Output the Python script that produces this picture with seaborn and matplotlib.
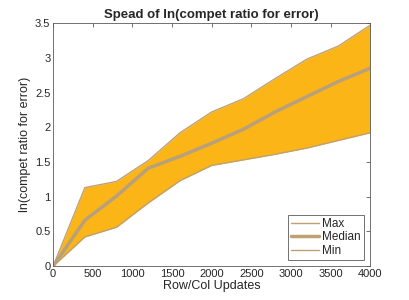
import matplotlib
matplotlib.use("Agg")
import matplotlib.pyplot as plt
import numpy as np
import pandas as pd
import seaborn as sns

updates = [0, 400, 800, 1200, 1600, 2000, 2400, 2800, 3200, 3600, 4000]
max_vals = [0, 1.13, 1.22, 1.52, 1.92, 2.22, 2.41, 2.70, 2.98, 3.17, 3.47]
median_vals = [0, 0.66, 1.01, 1.41, 1.58, 1.77, 1.97, 2.22, 2.44, 2.66, 2.85]
min_vals = [0, 0.42, 0.56, 0.91, 1.23, 1.45, 1.53, 1.61, 1.70, 1.81, 1.92]

sns.set_style("white")
plt.rcParams["font.family"] = ["Liberation Sans", "DejaVu Sans"]

fill_color = "#FBB516"
line_color = "#BFA072"
axis_color = "#262626"
spine_color = "#5a5a5a"

df = pd.DataFrame({
    "updates": updates * 3,
    "value": max_vals + median_vals + min_vals,
    "series": ["Max"] * 11 + ["Median"] * 11 + ["Min"] * 11,
})

fig = plt.figure(figsize=(4.09, 3.0), dpi=100)
ax = fig.add_axes([0.130, 0.113, 0.775, 0.81])

ax.fill_between(updates, min_vals, max_vals, color=fill_color, linewidth=0)
sns.lineplot(data=df, x="updates", y="value", hue="series", size="series",
             sizes={"Max": 1.0, "Median": 2.5, "Min": 1.0},
             palette={"Max": line_color, "Median": "#B9A07C", "Min": line_color},
             ax=ax, legend=False)

handles = [plt.Line2D([], [], color=line_color, lw=lw) for lw in (1.0, 2.5, 1.0)]
leg = ax.legend(handles, ["Max", "Median", "Min"], loc="lower right", fontsize=8.5,
                fancybox=False, framealpha=1, edgecolor=spine_color,
                handlelength=2.3, borderpad=0.3, labelspacing=0.1, handletextpad=0.3,
                borderaxespad=0.5)
leg.get_frame().set_linewidth(0.6)

ax.set_xlim(0, 4000)
ax.set_ylim(0, 3.5)
ax.set_xticks(np.arange(0, 4001, 500))
ax.set_yticks(np.arange(0, 3.51, 0.5))
ax.set_yticklabels(["0", "0.5", "1", "1.5", "2", "2.5", "3", "3.5"])
ax.set_xlabel("Row/Col Updates", fontsize=9, color=axis_color, labelpad=1)
ax.set_ylabel("ln(compet ratio for error)", fontsize=9, color=axis_color, labelpad=3)
ax.set_title("Spead of ln(compet ratio for error)", fontsize=9.5, fontweight="bold", pad=4)
ax.tick_params(direction="in", length=3, width=0.6, labelsize=8, colors=spine_color,
               labelcolor=axis_color, top=True, right=True, pad=2)
for s in ax.spines.values():
    s.set_color(spine_color)
    s.set_linewidth(0.6)

fig.savefig("out.png", dpi=100)
